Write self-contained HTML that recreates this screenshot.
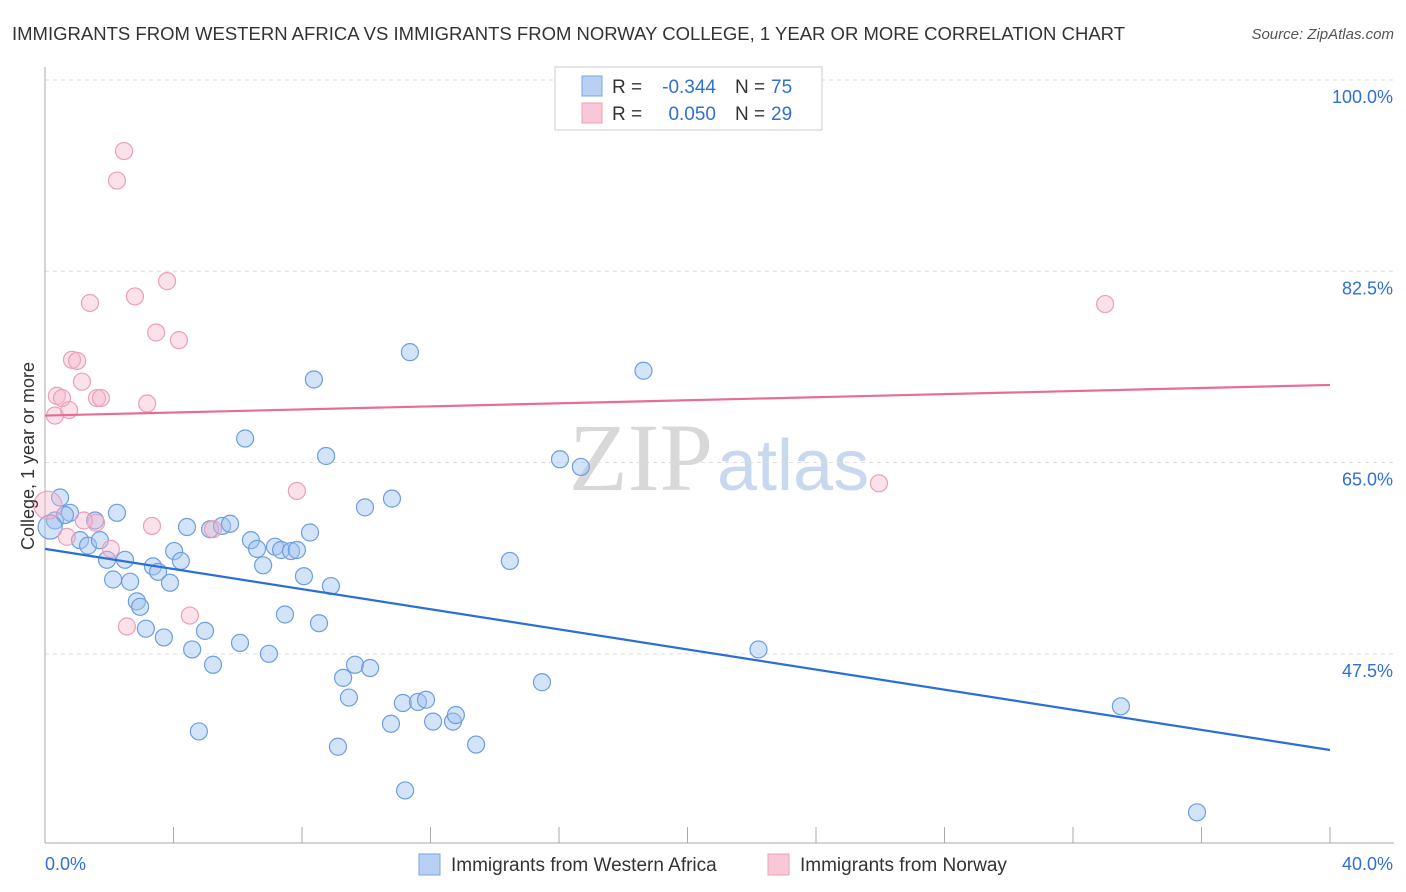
<!DOCTYPE html>
<html><head><meta charset="utf-8"><style>
body{margin:0;background:#fff;font-family:"Liberation Sans",sans-serif}
svg{display:block}
</style></head><body>
<svg id="c" width="1406" height="892">
<text x="12" y="40" font-size="18.5" fill="#333" textLength="1113">IMMIGRANTS FROM WESTERN AFRICA VS IMMIGRANTS FROM NORWAY COLLEGE, 1 YEAR OR MORE CORRELATION CHART</text>
<text x="1394" y="39" font-size="15" fill="#555" font-style="italic" text-anchor="end">Source: ZipAtlas.com</text>
<text x="713" y="490" font-size="96" fill="#d8d8d8" text-anchor="end" font-family="Liberation Serif,serif">ZIP</text>
<text x="717" y="490" font-size="72" fill="#c8d8ef">atlas</text>
<g id="grid"></g><g id="pts"></g><g id="trend"></g>
<text transform="translate(34,456) rotate(-90)" font-size="18" fill="#333" text-anchor="middle">College, 1 year or more</text>
<g>
<rect x="555" y="67" width="267" height="63" fill="#fff" stroke="#ccc"/>
<rect x="582" y="76" width="20" height="20" fill="#b8d0f3" stroke="#7aa5e5"/>
<rect x="582" y="103" width="20" height="20" fill="#f9c8d7" stroke="#eca0b8"/>
<text x="612" y="93" font-size="19" fill="#333">R =</text>
<text x="716" y="93" font-size="19" fill="#2f6fd6" text-anchor="end">-0.344</text>
<text x="735" y="93" font-size="19" fill="#333">N =</text>
<text x="771" y="93" font-size="19" fill="#2f6fd6">75</text>
<text x="612" y="120" font-size="19" fill="#333">R =</text>
<text x="716" y="120" font-size="19" fill="#2f6fd6" text-anchor="end">0.050</text>
<text x="735" y="120" font-size="19" fill="#333">N =</text>
<text x="771" y="120" font-size="19" fill="#2f6fd6">29</text>
</g>
<g>
<rect x="419" y="854" width="21" height="21" fill="#b8d0f3" stroke="#7aa5e5"/>
<text x="451" y="871" font-size="19" fill="#333">Immigrants from Western Africa</text>
<rect x="768" y="854" width="21" height="21" fill="#f9c8d7" stroke="#eca0b8"/>
<text x="800" y="871" font-size="19" fill="#333">Immigrants from Norway</text>
</g>
</svg>
<script>
const yTicks=[100,82.5,65,47.5];
const xTickLabels=["0.0%","40.0%"];
const blueX=[0.31,0.47,0.78,0.62,1.09,1.34,1.56,1.71,1.93,2.12,2.24,2.49,2.65,2.86,2.96,3.14,3.36,3.52,3.70,3.89,4.02,4.23,4.42,4.58,4.79,4.98,5.23,5.14,5.51,5.76,6.07,6.23,6.41,6.60,6.79,6.97,7.16,7.35,7.47,7.66,7.84,8.06,8.25,8.37,8.53,8.75,8.90,9.12,9.28,9.46,9.65,9.96,10.12,10.80,10.77,11.14,11.21,11.36,11.61,11.86,12.08,12.70,12.79,13.42,14.47,15.47,16.03,16.68,18.63,22.21,33.49,35.86,0.16];
const blueY=[59.7,61.8,60.4,60.2,57.9,57.4,59.7,57.9,56.1,54.3,60.4,56.1,54.1,52.3,51.8,49.8,55.5,55.0,49.0,54.0,56.9,56.0,59.1,47.9,40.4,49.6,46.5,58.9,59.2,59.4,48.5,67.2,57.9,57.1,55.6,47.5,57.3,57.0,51.1,56.9,57.0,54.6,58.6,72.6,50.3,65.6,53.7,39.0,45.3,43.5,46.5,60.9,46.2,61.7,41.1,43.0,35.0,75.1,43.1,43.3,41.3,41.3,41.9,39.2,56.0,44.9,65.3,64.6,73.4,47.9,42.7,33.0,59.1];
const pinkX=[0.09,0.31,0.37,0.53,0.75,0.84,1.00,1.15,1.40,1.62,1.74,1.59,2.05,2.24,2.46,2.55,2.80,3.18,3.33,3.46,3.80,4.17,4.51,5.23,7.84,25.96,33.00,0.68,1.21];
const pinkY=[61.1,69.3,71.1,70.9,69.8,74.4,74.3,72.4,79.6,70.9,70.9,59.5,57.1,90.8,93.5,50.0,80.2,70.4,59.2,76.9,81.6,76.2,51.0,58.9,62.4,63.1,79.5,58.2,59.7];
const blueTrend=[57.1,38.7];
const pinkTrend=[69.3,72.1];
const X=v=>45+v*32.125, Y=v=>80+(100-v)*10.93;
const NS="http://www.w3.org/2000/svg";
function mk(t,a,p){const e=document.createElementNS(NS,t);for(const k in a)e.setAttribute(k,a[k]);p.appendChild(e);return e;}
const g=document.getElementById('grid');
yTicks.forEach(t=>{
 const l=mk('line',{x1:45,x2:1394,y1:Y(t),y2:Y(t),stroke:'#ddd','stroke-dasharray':'4,4'},g);
 
 
 const tx=mk('text',{x:1393,y:Y(t)+23,'font-size':18,fill:'#2f6fd6','text-anchor':'end'},g);tx.textContent=t.toFixed(1)+'%';
 
 
});
mk('line',{x1:45,x2:45,y1:67,y2:843,stroke:'#aaa'},g);
mk('line',{x1:45,x2:1394,y1:843,y2:843,stroke:'#aaa'},g);
for(let i=0;i<=10;i++){mk('line',{x1:X(i*4),x2:X(i*4),y1:827,y2:843,stroke:'#aaa'},g);}
xTickLabels.forEach((s,i)=>{const tx=mk('text',{x:i?1393:45,y:870,'font-size':18,fill:'#2f6fd6','text-anchor':i?'end':'start'},g);tx.textContent=s;
 
 });
const p=document.getElementById('pts');
blueX.forEach((x,i)=>{const c=mk('circle',{cx:X(x),cy:Y(blueY[i]),r:i==blueX.length-1?12:8.5,fill:'rgba(160,195,240,0.45)',stroke:'#6d9de2','stroke-width':1.2},p);
 
 });
pinkX.forEach((x,i)=>{const c=mk('circle',{cx:X(x),cy:Y(pinkY[i]),r:i==0?14:8.5,fill:'rgba(245,180,200,0.4)',stroke:'#eb9fb9','stroke-width':1.2},p);
 
 });
const tr=document.getElementById('trend');
const b=mk('line',{x1:X(0),x2:X(40),y1:Y(blueTrend[0]),y2:Y(blueTrend[1]),stroke:'#2a6fd8','stroke-width':2.2},tr);


const pk=mk('line',{x1:X(0),x2:X(40),y1:Y(pinkTrend[0]),y2:Y(pinkTrend[1]),stroke:'#e86d95','stroke-width':2.2},tr);


</script>
</body></html>
